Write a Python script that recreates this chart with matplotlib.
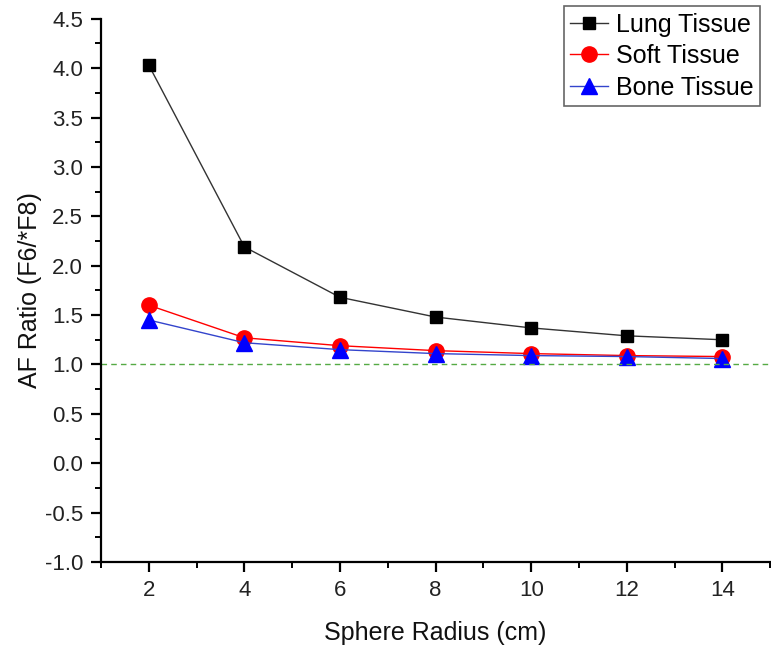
import numpy as np
import matplotlib.pyplot as plt
from matplotlib.ticker import MultipleLocator

plt.rcParams['font.family'] = ['Liberation Sans', 'DejaVu Sans']

radius = [2, 4, 6, 8, 10, 12, 14]
lung = [4.03, 2.19, 1.68, 1.48, 1.37, 1.29, 1.25]
soft = [1.60, 1.27, 1.19, 1.14, 1.11, 1.09, 1.08]
bone = [1.45, 1.22, 1.15, 1.11, 1.09, 1.08, 1.06]

fig = plt.figure(figsize=(7.71, 6.46), dpi=100)
ax = fig.add_axes([0.131, 0.130, 0.868, 0.841])

ax.plot(radius, lung, color='#333333', lw=1, marker='s', ms=9,
        mfc='black', mec='black', label='Lung Tissue')
ax.plot(radius, soft, color='red', lw=1, marker='o', ms=11,
        mfc='red', mec='red', label='Soft Tissue')
ax.plot(radius, bone, color='#3344cc', lw=1, marker='^', ms=11,
        mfc='blue', mec='blue', label='Bone Tissue')
ax.axhline(1.0, color='#55aa44', lw=1, ls=(0, (4, 3)))

ax.set_xlim(1, 15)
ax.set_ylim(-1.0, 4.5)
ax.set_xticks(radius)
ax.xaxis.set_minor_locator(MultipleLocator(1))
ax.yaxis.set_major_locator(MultipleLocator(0.5))
ax.yaxis.set_minor_locator(MultipleLocator(0.25))
ax.set_yticklabels([f'{v:.1f}' for v in ax.get_yticks()])

for s in ['top', 'right']:
    ax.spines[s].set_visible(False)
for s in ['left', 'bottom']:
    ax.spines[s].set_linewidth(1.6)
ax.tick_params(which='major', direction='out', length=7, width=1.6,
               labelsize=16, labelcolor='#222222', pad=6)
ax.tick_params(which='minor', direction='out', length=4, width=1.4)

ax.set_xlabel('Sphere Radius (cm)', fontsize=18, labelpad=14, color='#111111')
ax.set_ylabel('AF Ratio (F6/*F8)', fontsize=18, labelpad=2, color='#111111')

leg = ax.legend(loc='upper right', bbox_to_anchor=(0.986, 0.99),
                bbox_transform=fig.transFigure, fontsize=18, fancybox=False,
                edgecolor='#666666', framealpha=1, handlelength=1.5,
                borderpad=0.25, labelspacing=0.3, handletextpad=0.35,
                borderaxespad=0)
leg.get_frame().set_linewidth(1.2)

fig.savefig('out.png', dpi=100)
